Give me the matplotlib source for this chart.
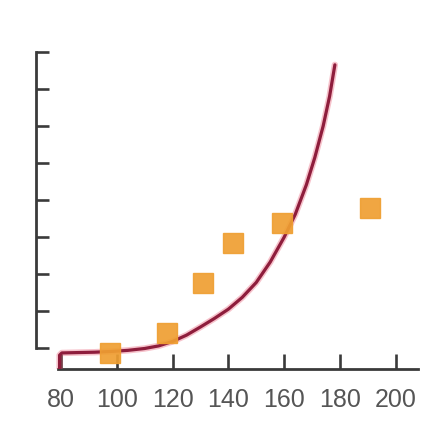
import matplotlib
matplotlib.use("Agg")
import matplotlib.pyplot as plt

# Observed samples (orange squares)
sample_x = [97.6, 117.9, 130.8, 141.8, 159.1, 190.8]
sample_y = [-0.12, 0.41, 1.76, 2.84, 3.39, 3.78]

# Model curve, traced point by point (starts with a short drop to the axis)
curve_x = [79.5, 79.5, 80.3, 86.0, 92.0, 98.0, 104.0, 110.0, 115.0, 120.0,
           125.0, 130.0, 135.0, 140.0, 145.0, 150.0, 155.0, 160.0, 164.0,
           168.0, 171.0, 174.0, 176.3, 178.2]
curve_y = [-0.55, -0.18, -0.12, -0.11, -0.10, -0.08, -0.05, 0.00, 0.07, 0.19,
           0.36, 0.58, 0.81, 1.06, 1.38, 1.78, 2.33, 3.00, 3.62,
           4.42, 5.15, 6.00, 6.80, 7.65]

x_ticks = [80, 100, 120, 140, 160, 180, 200]
x_tick_labels = ["80", "100", "120", "140", "160", "180", "200"]
y_ticks = [0, 1, 2, 3, 4, 5, 6, 7, 8]

fig = plt.figure(figsize=(4.42, 4.33), dpi=100)
ax = fig.add_axes([36 / 442, 1 - 369 / 433, 382 / 442, 319 / 433])

# curve with a soft red halo under a darker core
ax.plot(curve_x, curve_y, color="#e8506a", lw=4.6, alpha=0.35,
        solid_capstyle="round", solid_joinstyle="round", zorder=3)
ax.plot(curve_x, curve_y, color="#8e1d3c", lw=2.3,
        solid_capstyle="round", solid_joinstyle="round", zorder=4)

ax.plot(sample_x, sample_y, linestyle="none", marker="s", markersize=14.5,
        markerfacecolor="#ef9f32", markeredgecolor="#ef9f32", alpha=0.92,
        zorder=5)

ax.set_xlim(71.04, 208.0)
ax.set_ylim(-0.553, 8.05)

for side in ("top", "right"):
    ax.spines[side].set_visible(False)
for side in ("left", "bottom"):
    ax.spines[side].set_color("#3a3a3a")
    ax.spines[side].set_linewidth(2.0)
ax.spines["left"].set_bounds(0, 8)
ax.spines["bottom"].set_bounds(78.9, 208.0)

ax.set_yticks(y_ticks)
ax.set_yticklabels([])
ax.tick_params(axis="y", direction="in", length=9, width=1.9,
               color="#3a3a3a", left=True)

ax.set_xticks(x_ticks)
ax.set_xticklabels(x_tick_labels, family="Liberation Sans")
ax.tick_params(axis="x", direction="in", length=11, width=1.9,
               color="#3a3a3a", pad=14, labelsize=18,
               labelcolor="#555555")

ax.set_facecolor("white")
fig.patch.set_facecolor("white")
fig.savefig("out.png", dpi=100, facecolor="white")
